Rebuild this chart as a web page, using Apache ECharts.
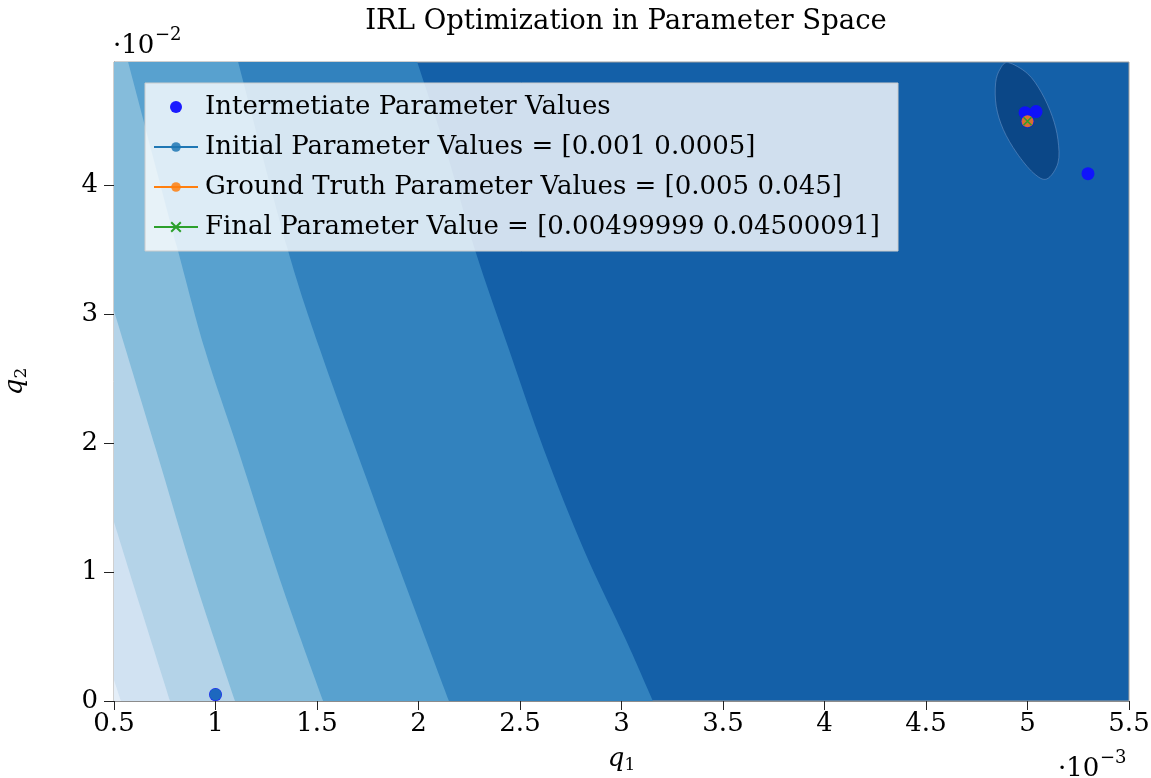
<!DOCTYPE html>
<html>
<head>
<meta charset="utf-8">
<script src="https://cdn.jsdelivr.net/npm/echarts@6/dist/echarts.min.js"></script>
<style>html,body{margin:0;padding:0;background:#fff}#c{width:1151px;height:778px}</style>
</head>
<body>
<div id="c"></div>
<script>
// ---- data (q1 and q2 in absolute units) ----
const Q1_MIN = 0.0005, Q1_MAX = 0.0055, Q1_STEP = 0.0005;
const Q2_MIN = 0, Q2_MAX = 0.0496;
const Q2_TICKS = [0, 0.01, 0.02, 0.03, 0.04];

// contour boundaries: [q1, q2]
const boundaryA = [[0.001993,0.04963],[0.002135,0.04280],[0.002278,0.03503],[0.002446,0.02726],[0.002618,0.01950],[0.002815,0.01173],[0.003022,0.00474],[0.003155,0]];
const boundaryB = [[0.001111,0.04963],[0.001352,0.03526],[0.001515,0.02726],[0.001692,0.01950],[0.001909,0.01017],[0.002150,0]];
const boundaryC = [[0.000569,0.04963],[0.000810,0.03526],[0.000948,0.02726],[0.001111,0.01950],[0.001318,0.00940],[0.001530,0]];
const boundaryD = [[0.0005,0.03029],[0.000707,0.01950],[0.000899,0.00940],[0.001096,0]];
const boundaryE = [[0.0005,0.01390],[0.000638,0.00691],[0.000776,0]];
const boundaryF = [[0.0005,0.00163],[0.000534,0]];
const ellipse = [[0.004905,0.04955],[0.005000,0.04870],[0.005068,0.04725],[0.005122,0.04538],[0.005150,0.04357],[0.005150,0.04176],[0.005095,0.04052],[0.005029,0.04099],[0.004947,0.04254],[0.004881,0.04435],[0.004846,0.04616],[0.004843,0.04798],[0.004865,0.04905]];

const bandColors = ['#3282be','#58a1cf','#85bcdb','#b4d3e8','#d1e2f2','#e4eef8'];
const bandBoundaries = [boundaryA, boundaryB, boundaryC, boundaryD, boundaryE, boundaryF];

const intermediate = [[0.001,0.0005],[0.004988,0.04567],[0.005042,0.04575],[0.005298,0.04093],[0.005,0.045]];
const initialPt = [[0.001,0.0005]];
const groundTruth = [[0.005,0.045]];
const finalPt = [[0.00499999,0.04500091]];

const names = [
  'Intermetiate Parameter Values',
  'Initial Parameter Values = [0.001 0.0005]',
  'Ground Truth Parameter Values = [0.005 0.045]',
  'Final Parameter Value = [0.00499999 0.04500091]'
];

const FONT = 'DejaVu Serif';

// smooth curve through pixel points (Catmull-Rom as cubic Beziers)
function curvePath(p, closed) {
  const n = p.length;
  const get = i => closed ? p[(i + n) % n] : p[Math.max(0, Math.min(n - 1, i))];
  let d = 'M' + p[0][0] + ',' + p[0][1];
  const segs = closed ? n : n - 1;
  for (let i = 0; i < segs; i++) {
    const p0 = get(i - 1), p1 = get(i), p2 = get(i + 1), p3 = get(i + 2);
    const c1 = [p1[0] + (p2[0] - p0[0]) / 6, p1[1] + (p2[1] - p0[1]) / 6];
    const c2 = [p2[0] - (p3[0] - p1[0]) / 6, p2[1] - (p3[1] - p1[1]) / 6];
    d += 'C' + c1[0] + ',' + c1[1] + ',' + c2[0] + ',' + c2[1] + ',' + p2[0] + ',' + p2[1];
  }
  return d;
}

const chart = echarts.init(document.getElementById('c'), null, {renderer:'canvas'});

const option = {
  animation: false,
  textStyle: {fontFamily: FONT, color: '#000'},
  title: {
    text: 'IRL Optimization in Parameter Space',
    left: 621, top: 3, textAlign: 'center',
    textStyle: {fontFamily: FONT, fontWeight: 'normal', fontSize: 27.5, color: '#000'}
  },
  grid: {left: 114, right: 22, top: 62, bottom: 77, containLabel: false, outerBoundsMode: 'none',
         show: true, backgroundColor: '#1460a8', borderColor: '#a0a0a0', borderWidth: 1},
  legend: {
    data: names,
    orient: 'vertical', left: 145, top: 83,
    itemWidth: 44, itemHeight: 12, itemGap: 14,
    padding: [11, 18, 11, 8],
    backgroundColor: 'rgba(255,255,255,0.8)', borderColor: '#cccccc', borderWidth: 1,
    textStyle: {fontFamily: FONT, fontSize: 26, color: '#000', padding: [0,0,0,2]},
    selectedMode: false
  },
  xAxis: {
    type: 'value', min: Q1_MIN, max: Q1_MAX, interval: Q1_STEP,
    name: '{i|q}{s|1}', nameLocation: 'middle', nameGap: 44,
    nameTextStyle: {rich: {i: {fontFamily: FONT, fontStyle: 'italic', fontSize: 26}, s: {fontFamily: FONT, fontSize: 17, padding: [12,0,0,0]}}},
    splitLine: {show: false},
    axisLine: {show: true, onZero: false, lineStyle: {color: '#8c8c8c', width: 1}},
    axisTick: {show: true, inside: false, length: 9, lineStyle: {color: '#222'}},
    axisLabel: {margin: 10, fontFamily: FONT, fontSize: 26, color: '#000', formatter: v => String(+(v*1000).toFixed(1))}
  },
  yAxis: {
    type: 'value', min: Q2_MIN, max: Q2_MAX,
    name: '{i|q}{s|2}', nameLocation: 'middle', nameGap: 84, nameRotate: 90,
    nameTextStyle: {rich: {i: {fontFamily: FONT, fontStyle: 'italic', fontSize: 26}, s: {fontFamily: FONT, fontSize: 17, padding: [12,0,0,0]}}},
    splitLine: {show: false},
    axisLine: {show: true, onZero: false, lineStyle: {color: '#8c8c8c', width: 1}},
    axisTick: {show: true, inside: false, length: 10, customValues: Q2_TICKS, lineStyle: {color: '#222'}},
    axisLabel: {margin: 16, fontFamily: FONT, fontSize: 26, color: '#000', customValues: Q2_TICKS, formatter: v => String(+(v*100).toFixed(2))}
  },
  graphic: [
    {type: 'text', left: 113, top: 33, style: {text: '·10', font: '26px "DejaVu Serif"', fill: '#000'}},
    {type: 'text', left: 155, top: 26, style: {text: '−2', font: '18px "DejaVu Serif"', fill: '#000'}},
    {type: 'text', left: 1058, top: 756, style: {text: '·10', font: '26px "DejaVu Serif"', fill: '#000'}},
    {type: 'text', left: 1100, top: 749, style: {text: '−3', font: '18px "DejaVu Serif"', fill: '#000'}}
  ],
  series: [
    {
      type: 'custom', name: 'contours', silent: true, clip: true, z: 1,
      data: bandColors.map((c, i) => [Q1_MIN, Q2_MIN, i]),
      renderItem: function (params, api) {
        const i = params.dataIndex;
        const pts = bandBoundaries[i].map(p => api.coord(p));
        let d = curvePath(pts, false);
        const c0 = api.coord([Q1_MIN, Q2_MIN]);
        const c1 = api.coord([Q1_MIN, Q2_MAX]);
        d += 'L' + c0[0] + ',' + c0[1] + 'L' + c1[0] + ',' + c1[1] + 'Z';
        return {type: 'path', shape: {pathData: d}, style: {fill: bandColors[i], stroke: null}};
      }
    },
    {
      type: 'custom', name: 'minimum', silent: true, clip: true, z: 2,
      data: [[ellipse[0][0], ellipse[0][1]]],
      renderItem: function (params, api) {
        const pts = ellipse.map(p => api.coord(p));
        return {type: 'path', shape: {pathData: curvePath(pts, true) + 'Z'}, style: {fill: '#0b4787', stroke: 'rgba(110,150,200,0.55)', lineWidth: 1}};
      }
    },
    {
      type: 'scatter', name: names[0], data: intermediate, z: 5,
      symbol: 'circle', symbolSize: 13, itemStyle: {color: '#1010ff', opacity: 0.95}
    },
    {
      type: 'line', name: names[1], data: initialPt, z: 6,
      symbol: 'circle', symbolSize: 12, showSymbol: true,
      lineStyle: {color: '#1f77b4', width: 1.5}, itemStyle: {color: '#1f77b4', opacity: 0.85}
    },
    {
      type: 'line', name: names[2], data: groundTruth, z: 7,
      symbol: 'circle', symbolSize: 12, showSymbol: true,
      lineStyle: {color: '#ff7f0e', width: 1.5}, itemStyle: {color: '#ff7f0e', opacity: 0.85}
    },
    {
      type: 'line', name: names[3], data: finalPt, z: 8,
      symbol: 'path://M0,0L10,10M10,0L0,10', symbolSize: 8, showSymbol: true,
      lineStyle: {color: '#2ca02c', width: 1.5},
      itemStyle: {color: 'none', borderColor: '#2ca02c', borderWidth: 1.5}
    }
  ]
};
chart.setOption(option);
</script>
</body>
</html>
